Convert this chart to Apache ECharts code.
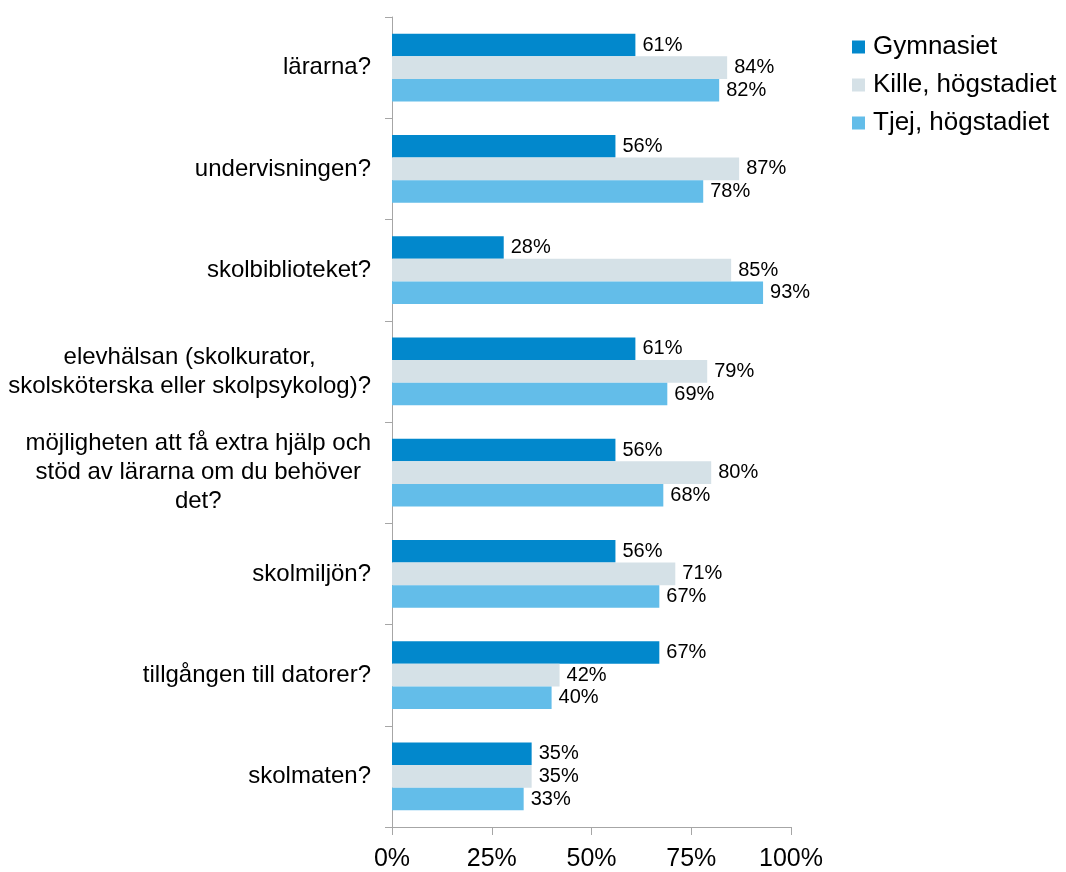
<!DOCTYPE html>
<html>
<head>
<meta charset="utf-8">
<script src="https://cdn.jsdelivr.net/npm/echarts@6/dist/echarts.min.js"></script>
<style>
  html, body { margin: 0; padding: 0; background: #fff; }
  #chart { width: 1066px; height: 872px; }
</style>
</head>
<body>
<div id="chart"></div>
<script>
var categories = [
  'lärarna?',
  'undervisningen?',
  'skolbiblioteket?',
  'elevhälsan (skolkurator,\nskolsköterska eller skolpsykolog)?',
  'möjligheten att få extra hjälp och\nstöd av lärarna om du behöver\ndet?',
  'skolmiljön?',
  'tillgången till datorer?',
  'skolmaten?'
];
var gymnasiet = [61, 56, 28, 61, 56, 56, 67, 35];
var killeHog = [84, 87, 85, 79, 80, 71, 42, 35];
var tjejHog = [82, 78, 93, 69, 68, 67, 40, 33];
var xTicks = [0, 25, 50, 75, 100];

var font = '"Liberation Sans", Arial, sans-serif';
var axisColor = '#a6a6a6';

function makeSeries(name, data, color) {
  return {
    name: name,
    type: 'bar',
    data: data,
    barGap: '0%',
    barCategoryGap: '33%',
    itemStyle: { color: color },
    label: {
      show: true,
      position: 'right',
      distance: 7,
      formatter: '{c}%',
      fontFamily: font,
      fontSize: 20,
      color: '#000'
    }
  };
}

var chart = echarts.init(document.getElementById('chart'));
chart.setOption({
  animation: false,
  backgroundColor: '#fff',
  textStyle: { fontFamily: font },
  grid: { left: 392, top: 17, width: 399, height: 812 },
  legend: {
    orient: 'vertical',
    left: 847,
    top: 29,
    itemWidth: 13,
    itemHeight: 13,
    itemGap: 12,
    icon: 'rect',
    textStyle: { fontFamily: font, fontSize: 26, color: '#000', padding: [0, 0, 0, 3] },
    data: ['Gymnasiet', 'Kille, högstadiet', 'Tjej, högstadiet']
  },
  xAxis: {
    type: 'value',
    min: xTicks[0],
    max: xTicks[xTicks.length - 1],
    interval: 25,
    axisLine: { show: true, lineStyle: { color: axisColor, width: 1 } },
    axisTick: { show: true, length: 8, lineStyle: { color: axisColor } },
    splitLine: { show: false },
    axisLabel: {
      margin: 20,
      fontFamily: font,
      fontSize: 25,
      color: '#000',
      formatter: '{value}%'
    }
  },
  yAxis: {
    type: 'category',
    inverse: true,
    data: categories,
    axisLine: { show: true, lineStyle: { color: axisColor, width: 1 } },
    axisTick: { show: true, length: 7, lineStyle: { color: axisColor } },
    axisLabel: {
      margin: 21,
      formatter: function (v) {
        return v.split('\n').map(function (l) { return '{c|' + l + '}'; }).join('\n');
      },
      rich: {
        c: { align: 'center', fontFamily: font, fontSize: 24, lineHeight: 29, color: '#000' }
      }
    }
  },
  series: [
    makeSeries('Gymnasiet', gymnasiet, '#0288cc'),
    makeSeries('Kille, högstadiet', killeHog, '#d5e1e7'),
    makeSeries('Tjej, högstadiet', tjejHog, '#63bde9')
  ]
});
</script>
</body>
</html>
